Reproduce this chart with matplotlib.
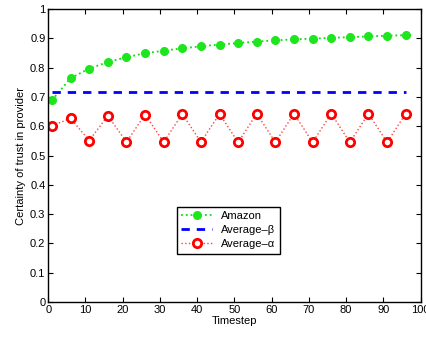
import matplotlib
matplotlib.use('Agg')
import matplotlib.pyplot as plt

plt.rcParams['font.family'] = ['Liberation Sans', 'DejaVu Sans']
plt.rcParams['mathtext.fontset'] = 'dejavusans'

timesteps = list(range(1, 97, 5))
amazon = [0.689, 0.764, 0.797, 0.819, 0.836, 0.849, 0.858, 0.866, 0.873, 0.879,
          0.884, 0.889, 0.893, 0.897, 0.899, 0.902, 0.904, 0.907, 0.909, 0.911]
avg_beta = 0.718
avg_alpha = [0.602, 0.627, 0.551, 0.636, 0.546, 0.640, 0.546, 0.642, 0.546, 0.642,
             0.545, 0.643, 0.545, 0.643, 0.545, 0.643, 0.545, 0.643, 0.545, 0.643]

fig = plt.figure(figsize=(4.27, 3.37), dpi=100)
ax = fig.add_axes([0.113, 0.104, 0.872, 0.869])

ax.plot(timesteps, amazon, ':', color='#00e600', marker='o', markersize=5.5,
        markerfacecolor='#1ee61e', markeredgecolor='#1ee61e', lw=1.3, label='Amazon')
ax.plot([timesteps[0], timesteps[-1]], [avg_beta, avg_beta], '--', color='#0000ff',
        lw=2, dashes=(3, 2.5), label='Average\u2013β')
ax.plot(timesteps, avg_alpha, ':', color='#ff4040', marker='o', markersize=6,
        markerfacecolor='white', markeredgecolor='#ff0000', markeredgewidth=2,
        lw=1.0, label='Average\u2013α')

ax.set_xlim(0, 100)
ax.set_ylim(0, 1)
ax.set_xticks(range(0, 101, 10))
ax.set_yticks([i / 10 for i in range(11)])
ax.set_yticklabels(['0', '0.1', '0.2', '0.3', '0.4', '0.5', '0.6', '0.7', '0.8', '0.9', '1'])
ax.tick_params(direction='in', top=True, right=True, labelsize=8, length=3.5, pad=2)
for s in ax.spines.values():
    s.set_linewidth(1.0)

ax.set_xlabel('Timestep', fontsize=8, labelpad=1)
ax.set_ylabel('Certainty of trust in provider', fontsize=8, labelpad=3)

leg = ax.legend(loc='center', bbox_to_anchor=(0.484, 0.245), fontsize=8,
                fancybox=False, edgecolor='black', framealpha=1,
                handlelength=2.8, borderpad=0.4, labelspacing=0.35)
leg.get_frame().set_linewidth(1.0)

fig.savefig('out.png', dpi=100)
